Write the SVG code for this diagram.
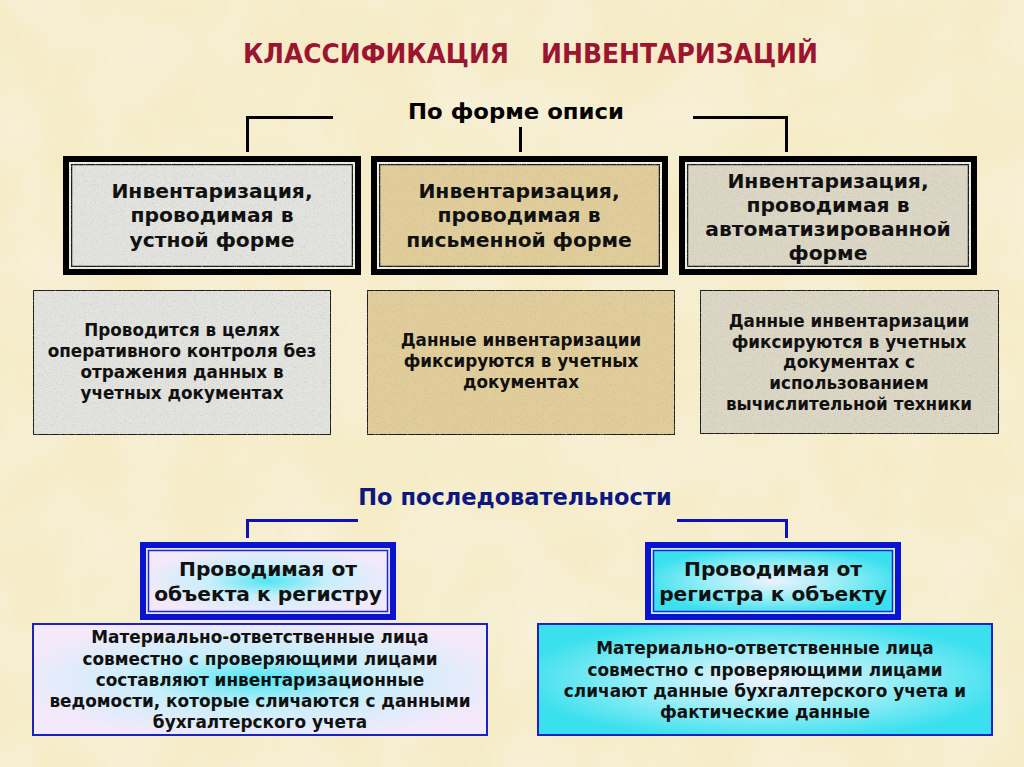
<svg xmlns="http://www.w3.org/2000/svg" width="1024" height="767" viewBox="0 0 1024 767">
<defs>
<filter id="grain" x="0" y="0" width="100%" height="100%">
<feTurbulence type="fractalNoise" baseFrequency="0.9" numOctaves="2" seed="3" result="n"/>
<feColorMatrix in="n" type="matrix" values="0 0 0 0 0.35  0 0 0 0 0.35  0 0 0 0 0.35  0 0 0 -1.4 0.62" result="a"/>
<feComposite in="a" in2="SourceGraphic" operator="in" result="dots"/>
<feMerge><feMergeNode in="SourceGraphic"/><feMergeNode in="dots"/></feMerge>
</filter>
<filter id="bgtex" x="0" y="0" width="100%" height="100%">
<feTurbulence type="fractalNoise" baseFrequency="0.012" numOctaves="3" seed="7" result="n"/>
<feColorMatrix in="n" type="matrix" values="0 0 0 0 1  0 0 0 0 1  0 0 0 0 1  0 0 0 0.5 -0.15" result="w"/>
<feComposite in="w" in2="SourceGraphic" operator="in" result="c"/>
<feMerge><feMergeNode in="SourceGraphic"/><feMergeNode in="c"/></feMerge>
</filter>
<radialGradient id="lavcyan" cx="50%" cy="50%" r="55%">
<stop offset="0" stop-color="#4fe6f2"/>
<stop offset="0.45" stop-color="#c8eefa"/>
<stop offset="1" stop-color="#f3e9fa"/>
</radialGradient>
<radialGradient id="cyanlight" cx="50%" cy="50%" r="55%">
<stop offset="0" stop-color="#eef2ff"/>
<stop offset="0.5" stop-color="#9aeef6"/>
<stop offset="1" stop-color="#3ae0ee"/>
</radialGradient>
<style>
.title{font-family:"DejaVu Sans",Verdana,sans-serif;font-weight:bold;font-size:27px;fill:#9c1530}
.sub{font-family:"DejaVu Sans",Verdana,sans-serif;font-weight:bold;font-size:22px;fill:#000}
.t1{font-family:"DejaVu Sans",Verdana,sans-serif;font-weight:bold;font-size:20.3px;fill:#111;text-anchor:middle}
.t2{font-family:"DejaVu Sans",Verdana,sans-serif;font-weight:bold;font-size:16.8px;fill:#111;text-anchor:middle}
.t3{font-family:"DejaVu Sans",Verdana,sans-serif;font-weight:bold;font-size:20.2px;fill:#111;text-anchor:middle}
.t4{font-family:"DejaVu Sans",Verdana,sans-serif;font-weight:bold;font-size:16.9px;fill:#111;text-anchor:middle}
.bluet{font-family:"DejaVu Sans",Verdana,sans-serif;font-weight:bold;font-size:22.5px;fill:#0c1880;text-anchor:middle}
.outer{fill:none;stroke:#000;stroke-width:6}
.inner{stroke:#1a1a1a;stroke-width:1.5}
.gap{fill:#ecebe6}
.single{stroke:#1a1a1a;stroke-width:2}
.bouter{fill:none;stroke:#0a14d0;stroke-width:6}
.binner{stroke:#1a2ad8;stroke-width:1.5}
.bsingle{stroke:#1a22c0;stroke-width:2}
.conn{fill:none;stroke:#000;stroke-width:3}
.bconn{fill:none;stroke:#1010b8;stroke-width:3}
</style>
</defs>

<rect x="0" y="0" width="1024" height="767" fill="#f5ebc6" filter="url(#bgtex)"/>

<g id="title">
<text class="title" y="63"><tspan x="243" textLength="266" lengthAdjust="spacingAndGlyphs">КЛАССИФИКАЦИЯ</tspan><tspan x="541" textLength="277" lengthAdjust="spacingAndGlyphs">ИНВЕНТАРИЗАЦИЙ</tspan></text>
</g>

<g id="label-forma">
<text class="sub" x="408" y="119" textLength="216" lengthAdjust="spacingAndGlyphs">По форме описи</text>
</g>

<g id="label-posl">
<text class="bluet" x="515" y="505">По последовательности</text>
</g>

<g id="connectors">
<path class="conn" d="M333 117.5 H247.5 V152"/>
<path class="conn" d="M520.5 127 V152"/>
<path class="conn" d="M693 117.5 H786.5 V152"/>
<path class="bconn" d="M358 520.5 H247.5 V538"/>
<path class="bconn" d="M677 520.5 H786.5 V538"/>
</g>

<g id="box-ustnaya">
<rect x="66" y="159" width="292" height="113" class="gap"/>
<rect x="66" y="159" width="292" height="113" class="outer"/>
<rect x="71.5" y="164.5" width="281" height="102" fill="#e2e2de" class="inner" filter="url(#grain)"/>
<text class="t1" x="212" y="198">Инвентаризация,</text>
<text class="t1" x="212" y="222">проводимая в</text>
<text class="t1" x="212" y="247">устной форме</text>
</g>

<g id="box-pismennaya">
<rect x="374" y="159" width="291" height="113" class="gap"/>
<rect x="374" y="159" width="291" height="113" class="outer"/>
<rect x="379.5" y="164.5" width="280" height="102" fill="#e0cd9a" class="inner" filter="url(#grain)"/>
<text class="t1" x="519" y="198">Инвентаризация,</text>
<text class="t1" x="519" y="222">проводимая в</text>
<text class="t1" x="519" y="247">письменной форме</text>
</g>

<g id="box-avtomat">
<rect x="682" y="159" width="292" height="113" class="gap"/>
<rect x="682" y="159" width="292" height="113" class="outer"/>
<rect x="687.5" y="164.5" width="281" height="102" fill="#dcd6c4" class="inner" filter="url(#grain)"/>
<text class="t1" x="828" y="188">Инвентаризация,</text>
<text class="t1" x="828" y="212">проводимая в</text>
<text class="t1" x="828" y="236">автоматизированной</text>
<text class="t1" x="828" y="260">форме</text>
</g>

<g id="desc-ustnaya">
<rect x="33" y="290" width="298" height="145" fill="#e2e2de" class="single" filter="url(#grain)"/>
<text class="t2" x="182" y="336">Проводится в целях</text>
<text class="t2" x="182" y="357">оперативного контроля без</text>
<text class="t2" x="182" y="378">отражения данных в</text>
<text class="t2" x="182" y="399">учетных документах</text>
</g>

<g id="desc-pismennaya">
<rect x="367" y="290" width="308" height="145" fill="#e0cd9a" class="single" filter="url(#grain)"/>
<text class="t2" x="521" y="346">Данные инвентаризации</text>
<text class="t2" x="521" y="367">фиксируются в учетных</text>
<text class="t2" x="521" y="388">документах</text>
</g>

<g id="desc-avtomat">
<rect x="700" y="290" width="299" height="144" fill="#dcd6c4" class="single" filter="url(#grain)"/>
<text class="t2" x="849" y="327">Данные инвентаризации</text>
<text class="t2" x="849" y="348">фиксируются в учетных</text>
<text class="t2" x="849" y="368">документах с</text>
<text class="t2" x="849" y="389">использованием</text>
<text class="t2" x="849" y="410">вычислительной техники</text>
</g>

<g id="box-obj-reg">
<rect x="143" y="545" width="250" height="72" fill="#e8e6f6"/>
<rect x="143" y="545" width="250" height="72" class="bouter"/>
<rect x="148.5" y="550.5" width="239" height="61" fill="url(#lavcyan)" class="binner"/>
<text class="t3" x="268" y="576">Проводимая от</text>
<text class="t3" x="268" y="601">объекта к регистру</text>
</g>

<g id="box-reg-obj">
<rect x="648" y="545" width="250" height="72" fill="#c8f4f8"/>
<rect x="648" y="545" width="250" height="72" class="bouter"/>
<rect x="653.5" y="550.5" width="239" height="61" fill="url(#cyanlight)" class="binner"/>
<text class="t3" x="773" y="576">Проводимая от</text>
<text class="t3" x="773" y="601">регистра к объекту</text>
</g>

<g id="desc-obj-reg">
<rect x="33" y="624" width="454" height="111" fill="url(#lavcyan)" class="bsingle"/>
<text class="t4" x="260" y="643">Материально-ответственные лица</text>
<text class="t4" x="260" y="665">совместно с проверяющими лицами</text>
<text class="t4" x="260" y="686">составляют инвентаризационные</text>
<text class="t4" x="260" y="707">ведомости, которые сличаются с данными</text>
<text class="t4" x="260" y="728">бухгалтерского учета</text>
</g>

<g id="desc-reg-obj">
<rect x="538" y="624" width="454" height="111" fill="url(#cyanlight)" class="bsingle"/>
<text class="t4" x="765" y="654">Материально-ответственные лица</text>
<text class="t4" x="765" y="676">совместно с проверяющими лицами</text>
<text class="t4" x="765" y="697">сличают данные бухгалтерского учета и</text>
<text class="t4" x="765" y="718">фактические данные</text>
</g>
</svg>
